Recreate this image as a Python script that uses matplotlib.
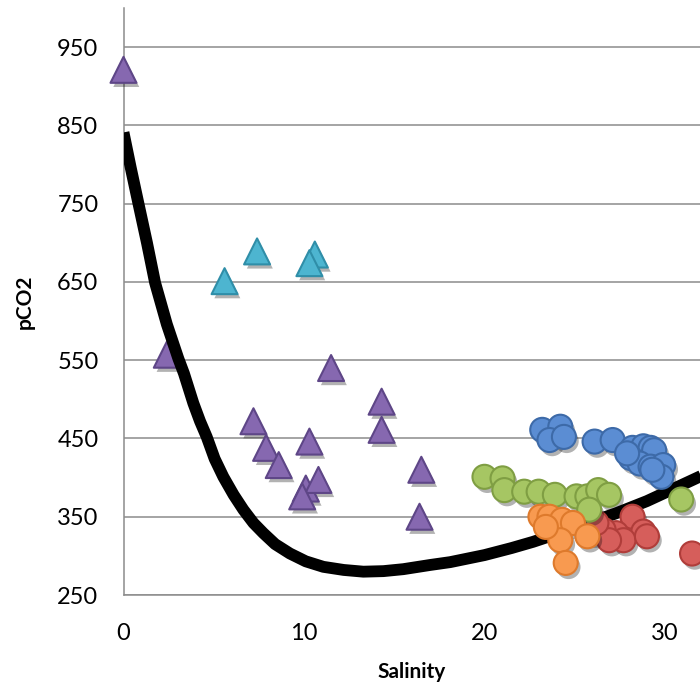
import matplotlib
matplotlib.use("Agg")
import matplotlib.pyplot as plt
import matplotlib.patheffects as pe

plt.rcParams['font.family'] = ['Lato', 'DejaVu Sans']

# purple triangles
purple_x = [0.0, 2.4, 11.5, 14.3, 14.3, 7.2, 7.9, 8.6, 10.3, 10.1, 10.8, 9.9, 16.5, 16.4]
purple_y = [921, 557, 540, 497, 461, 472, 438, 416, 446, 386, 397, 376, 410, 350]

# teal triangles
teal_x = [5.6, 7.4, 10.6, 10.3]
teal_y = [651, 689, 685, 674]

# circles
blue_x = [23.2, 24.2, 23.6, 24.4, 26.1, 27.1, 28.2, 28.8, 29.2, 29.4, 28.1, 28.6,
          29.2, 29.9, 29.8, 29.3, 27.9]
blue_y = [461, 465, 448, 452, 446, 448, 438, 440, 438, 435, 425, 418,
          414, 416, 401, 410, 431]

green_x = [20.0, 21.0, 21.1, 22.2, 23.0, 23.9, 25.1, 25.7, 26.3, 26.9, 25.8, 30.9]
green_y = [401, 399, 384, 382, 382, 378, 376, 376, 384, 378, 359, 372]

red_x = [28.2, 28.8, 27.3, 26.6, 26.0, 27.7, 29.0, 26.9, 31.5, 26.2]
red_y = [350, 331, 329, 333, 331, 320, 325, 320, 303, 342]

orange_x = [23.1, 23.6, 24.3, 24.9, 24.2, 25.7, 24.5, 23.4]
orange_y = [350, 350, 346, 342, 320, 325, 291, 337]

# trend line
trend_x = [0.0, 0.4, 0.82, 1.3, 1.75, 2.4, 3.04, 3.35, 3.87, 4.24, 4.61, 5.05, 5.53,
           6.1, 6.64, 7.2, 7.75, 8.4, 9.22, 10.1, 11.07, 12.2, 13.29, 14.4, 15.5,
           17.0, 18.1, 20.0, 21.5, 22.7, 24.0, 25.5, 27.3, 29.0, 30.5, 31.9, 33.0]
trend_y = [841, 796, 751, 700, 649, 596, 552, 533, 495, 472, 452, 424, 401,
           378, 359, 342, 329, 315, 303, 293, 286, 282, 279.8, 280.5, 283,
           288.4, 292, 301, 310, 318, 328, 340, 354.5, 370, 386, 401, 413]

W, H = 700, 684
fig = plt.figure(figsize=(W / 100, H / 100), dpi=100)
ax = fig.add_axes([123.5 / W, 89 / H, 40 * 18.05 / W, 587 / H])

shadow = [pe.SimplePatchShadow(offset=(2, -3), shadow_rgbFace='k', alpha=0.3), pe.Normal()]

ax.scatter(purple_x, purple_y, marker='^', s=350, c='#8668b0', edgecolors='#5e4687',
           linewidths=1.5, zorder=3, clip_on=False, path_effects=shadow)
ax.scatter(teal_x, teal_y, marker='^', s=350, c='#4db5d0', edgecolors='#2f8ea8',
           linewidths=1.5, zorder=3, clip_on=False, path_effects=shadow)

ax.plot(trend_x, trend_y, color='black', lw=8.5, zorder=4, solid_capstyle='butt',
        solid_joinstyle='round')

ax.scatter(red_x, red_y, s=300, c='#d65e5b', edgecolors='#b03d3a', linewidths=1.5,
           zorder=5, clip_on=False, path_effects=shadow)
ax.scatter(green_x, green_y, s=300, c='#a6c663', edgecolors='#7f9e43', linewidths=1.5,
           zorder=6, clip_on=False, path_effects=shadow)
ax.scatter(blue_x, blue_y, s=300, c='#5b8dd3', edgecolors='#3d6aa8', linewidths=1.5,
           zorder=6, clip_on=False, path_effects=shadow)
ax.scatter(orange_x, orange_y, s=300, c='#f89a50', edgecolors='#de7a2c', linewidths=1.5,
           zorder=7, clip_on=False, path_effects=shadow)

ax.set_xlim(0, 40)
ax.set_ylim(250, 1000)
ax.set_xticks([0, 10, 20, 30])
ax.set_yticks(range(250, 1000, 100))
ax.tick_params(length=0, labelsize=17)
ax.tick_params(axis='y', pad=18)
ax.tick_params(axis='x', pad=20)
ax.yaxis.grid(True, color='#8c8c8c', lw=1.1)
ax.set_axisbelow(True)
for s in ['top', 'right']:
    ax.spines[s].set_visible(False)
for s in ['left', 'bottom']:
    ax.spines[s].set_color('#8c8c8c')
    ax.spines[s].set_linewidth(1.1)

fig.text(412 / W, 1 - 672 / H, 'Salinity', ha='center', va='center',
         fontsize=15, fontweight='bold')
fig.text(25 / W, 1 - 302 / H, 'pCO2', ha='center', va='center', rotation=90,
         fontsize=15, fontweight='bold')

fig.savefig('out.png', dpi=100)
